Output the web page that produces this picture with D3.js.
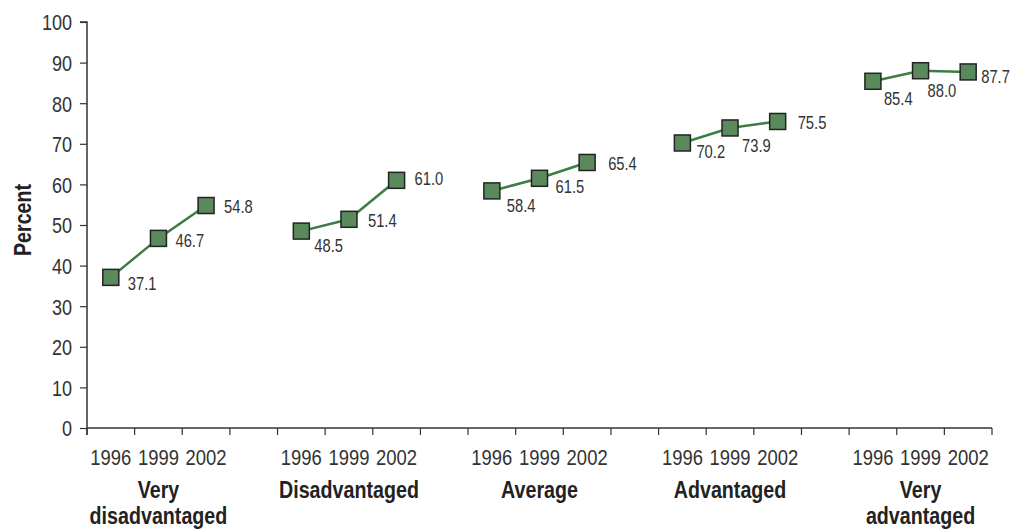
<!DOCTYPE html>
<html>
<head>
<meta charset="utf-8">
<script src="https://cdn.jsdelivr.net/npm/d3@7"></script>
<style>
  html, body { margin: 0; padding: 0; background: #fff; }
  svg text { font-family: "Liberation Sans", Arial, sans-serif; fill: #333; }
</style>
</head>
<body>
<svg id="chart" width="1012" height="530"></svg>
<script>
const groups = ["Very disadvantaged", "Disadvantaged", "Average", "Advantaged", "Very advantaged"];
const groupLines = [["Very", "disadvantaged"], ["Disadvantaged"], ["Average"], ["Advantaged"], ["Very", "advantaged"]];
const years = ["1996", "1999", "2002"];
const values = [
  [37.1, 46.7, 54.8],
  [48.5, 51.4, 61.0],
  [58.4, 61.5, 65.4],
  [70.2, 73.9, 75.5],
  [85.4, 88.0, 87.7]
];
const yTicks = [0, 10, 20, 30, 40, 50, 60, 70, 80, 90, 100];
// label nudges (dx, dy in px) relative to each marker
const labelNudge = [
  [[17, 13], [17, 9], [18, 7.5]],
  [[13, 21], [19, 7.7], [18, 5]],
  [[15, 21], [16, 14.5], [21, 7.5]],
  [[14, 15], [12, 24], [20, 7.5]],
  [[11, 24], [7, 26], [13, 11.5]]
];

(function () {
const svg = d3.select("#chart");
const mLeft = 87, mRight = 992, mTop = 22, mBottom = 428;
const SX = 0.82; // horizontal condensation

function ntext(px, py, str, opts) {
  opts = opts || {};
  const t = svg.append("text")
    .attr("transform", `translate(${px},${py})${opts.rotate ? " rotate(" + opts.rotate + ")" : ""} scale(${SX},1)`)
    .attr("text-anchor", opts.anchor || "start")
    .attr("font-size", opts.size || 16)
    .text(str);
  if (opts.bold) t.attr("font-weight", "bold").style("fill", "#222");
  return t;
}

const slots = [];
groups.forEach((g, gi) => {
  years.forEach((yr) => slots.push(g + "|" + yr));
  if (gi < groups.length - 1) slots.push("gap" + gi);
});
const x = d3.scaleBand().domain(slots).range([mLeft, mRight]).padding(0);
const y = d3.scaleLinear().domain([0, 100]).range([mBottom, mTop]);

const yAxis = d3.axisLeft(y).tickValues(yTicks).tickSize(7).tickPadding(7).tickFormat(d3.format("d"));
const yg = svg.append("g").attr("transform", `translate(${mLeft},0)`).call(yAxis);
yg.select(".domain").attr("stroke", "#333").attr("stroke-width", 1.5).attr("d", `M0,${mBottom + 7}V${mTop}H-7`);
yg.selectAll(".tick line").attr("stroke", "#333").attr("stroke-width", 1.2);
yg.selectAll(".tick text").attr("font-size", 22).attr("dy", "0.36em")
  .attr("x", -15 / SX).attr("transform", `scale(${SX},1)`)
  .style("fill", "#333").attr("font-family", null);

const xg = svg.append("g").attr("transform", `translate(0,${mBottom})`);
xg.append("line").attr("x1", mLeft).attr("x2", mRight).attr("y1", 0).attr("y2", 0)
  .attr("stroke", "#333").attr("stroke-width", 1.5);
const bounds = slots.map(s => x(s)).concat([x(slots[slots.length - 1]) + x.bandwidth()]);
xg.selectAll("line.tk").data(bounds).enter().append("line").attr("class", "tk")
  .attr("x1", d => d).attr("x2", d => d).attr("y1", 0).attr("y2", 7)
  .attr("stroke", "#333").attr("stroke-width", 1.2);

groups.forEach((g, gi) => {
  years.forEach((yr) => {
    ntext(x(g + "|" + yr) + x.bandwidth() / 2, 465, yr, { anchor: "middle", size: 22.5 });
  });
  const cx = x(g + "|" + years[1]) + x.bandwidth() / 2;
  groupLines[gi].forEach((ln, li) => {
    ntext(cx, 498 + li * 26, ln, { anchor: "middle", size: 24, bold: true });
  });
});

ntext(31, 220, "Percent", { anchor: "middle", size: 24, bold: true, rotate: -90 });

const line = d3.line().x(d => d.x).y(d => d.y);
groups.forEach((g, gi) => {
  const pts = values[gi].map((v, yi) => ({ x: x(g + "|" + years[yi]) + x.bandwidth() / 2, y: y(v), v, n: labelNudge[gi][yi] }));
  svg.append("path").datum(pts).attr("d", line).attr("fill", "none")
    .attr("stroke", "#3d7d44").attr("stroke-width", 2.5);
  const s = 16;
  svg.selectAll(null).data(pts).enter().append("rect")
    .attr("x", d => d.x - s / 2).attr("y", d => d.y - s / 2).attr("width", s).attr("height", s)
    .attr("fill", "#5a8a5c").attr("stroke", "#222").attr("stroke-width", 1.5);
  pts.forEach(d => ntext(d.x + d.n[0], d.y + d.n[1], d3.format(".1f")(d.v), { size: 18 }));
});
})();
</script>
</body>
</html>
